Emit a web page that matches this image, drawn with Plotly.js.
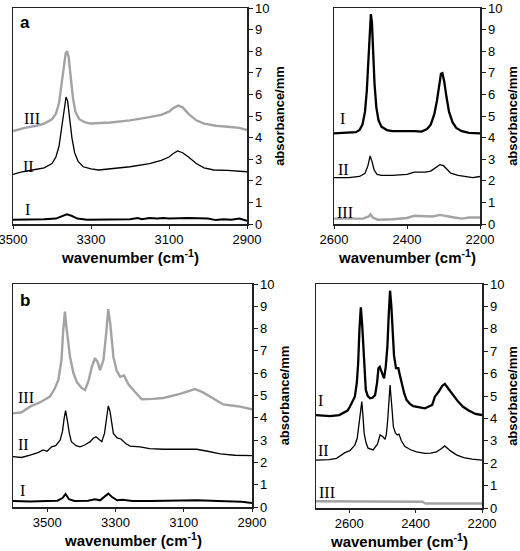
<!DOCTYPE html>
<html>
<head>
<meta charset="utf-8">
<script src="https://cdn.plot.ly/plotly-3.0.1.min.js"></script>
<style>html,body{margin:0;padding:0;background:#fff;}#chart{width:520px;height:551px;}</style>
</head>
<body>
<div id="chart"></div>
<script>
// ---------- Panel a, left (3500-2900 cm-1) ----------
const aL_I_x = [3500,3480,3450,3420,3390,3375,3362,3350,3335,3310,3250,3200,3180,3170,3150,3130,3115,3100,3050,3000,2980,2960,2940,2920,2900];
const aL_I_y = [0.2,0.2,0.22,0.22,0.25,0.35,0.45,0.38,0.25,0.2,0.2,0.22,0.28,0.22,0.28,0.25,0.28,0.25,0.28,0.25,0.18,0.22,0.2,0.25,0.15];
const aL_II_x = [3500,3480,3450,3420,3400,3390,3382,3375,3369,3364,3360,3355,3349,3342,3333,3320,3300,3280,3250,3200,3150,3120,3100,3090,3078,3065,3050,3030,3010,2985,2950,2920,2900];
const aL_II_y = [2.3,2.4,2.5,2.6,2.8,3.1,3.6,4.5,5.4,5.88,5.7,5.0,4.0,3.3,2.9,2.65,2.55,2.5,2.55,2.65,2.8,2.95,3.1,3.25,3.38,3.3,3.1,2.8,2.6,2.5,2.48,2.45,2.42];
const aL_III_x = [3500,3470,3440,3420,3400,3390,3382,3375,3370,3365,3361,3357,3352,3346,3340,3330,3315,3300,3250,3200,3150,3120,3100,3088,3076,3065,3050,3030,3010,2980,2950,2920,2900];
const aL_III_y = [4.3,4.45,4.55,4.65,4.85,5.1,5.6,6.5,7.3,7.9,8.0,7.7,6.8,5.8,5.2,4.85,4.7,4.65,4.7,4.8,4.95,5.05,5.2,5.38,5.48,5.4,5.1,4.8,4.65,4.55,4.5,4.45,4.35];

// ---------- Panel a, right (2600-2200 cm-1) ----------
const aR_I_x = [2600,2580,2560,2540,2530,2522,2515,2510,2506,2502,2499,2496,2493,2489,2484,2478,2470,2455,2440,2400,2380,2360,2345,2335,2325,2318,2312,2307,2303,2298,2292,2285,2275,2265,2250,2230,2200];
const aR_I_y = [4.2,4.22,4.22,4.25,4.35,4.6,5.2,6.2,7.5,9.0,9.72,9.3,8.0,6.5,5.4,4.8,4.5,4.35,4.3,4.32,4.3,4.28,4.4,4.6,5.1,5.7,6.5,6.95,6.98,6.6,5.9,5.2,4.7,4.45,4.3,4.22,4.2];
const aR_II_x = [2600,2560,2530,2515,2507,2501,2496,2490,2482,2470,2440,2400,2380,2350,2335,2320,2310,2300,2290,2280,2260,2240,2220,2200];
const aR_II_y = [2.15,2.15,2.2,2.35,2.7,3.15,2.9,2.5,2.3,2.25,2.25,2.3,2.4,2.4,2.45,2.65,2.75,2.7,2.5,2.35,2.25,2.2,2.15,2.2];
const aR_III_x = [2600,2560,2520,2505,2500,2494,2480,2440,2400,2380,2350,2330,2310,2290,2270,2250,2230,2200];
const aR_III_y = [0.25,0.25,0.25,0.35,0.45,0.3,0.2,0.22,0.28,0.38,0.35,0.35,0.42,0.35,0.3,0.25,0.3,0.3];

// ---------- Panel b, left (3600-2900 cm-1) ----------
const bL_I_x = [3600,3550,3500,3470,3455,3446,3436,3420,3380,3360,3345,3330,3321,3310,3295,3280,3250,3200,3150,3100,3060,3000,2960,2930,2900];
const bL_I_y = [0.27,0.25,0.27,0.28,0.4,0.58,0.35,0.27,0.28,0.35,0.3,0.5,0.6,0.45,0.3,0.32,0.27,0.27,0.28,0.27,0.3,0.27,0.25,0.24,0.18];
const bL_II_x = [3600,3575,3550,3525,3512,3500,3487,3475,3462,3455,3450,3446,3441,3435,3429,3415,3404,3390,3374,3365,3357,3348,3340,3332,3326,3321,3316,3311,3306,3295,3284,3270,3257,3228,3200,3160,3100,3062,3030,2993,2950,2900];
const bL_II_y = [2.26,2.22,2.33,2.45,2.56,2.5,2.7,2.75,3.0,3.4,4.0,4.32,3.9,3.3,2.93,2.75,2.7,2.78,2.93,3.08,3.15,3.05,2.93,3.3,4.1,4.53,4.3,3.7,3.3,3.1,3.05,2.85,2.73,2.7,2.62,2.59,2.57,2.59,2.5,2.38,2.32,2.3];
const bL_III_x = [3600,3575,3550,3520,3492,3478,3467,3458,3453,3448,3443,3438,3433,3423,3413,3400,3389,3378,3369,3360,3352,3345,3335,3327,3321,3315,3310,3306,3296,3286,3275,3262,3245,3223,3190,3160,3111,3085,3067,3045,3023,3000,2984,2960,2935,2900];
const bL_III_y = [4.2,4.25,4.5,4.7,4.95,5.3,5.7,6.6,7.9,8.76,8.0,7.2,6.74,6.0,5.6,5.35,5.25,5.7,6.3,6.67,6.5,6.14,6.6,7.8,8.87,8.2,7.3,6.74,6.1,5.84,5.9,5.5,5.2,4.83,4.85,4.89,5.07,5.2,5.29,5.15,4.95,4.75,4.6,4.55,4.5,4.38];

// ---------- Panel b, right (2700-2200 cm-1) ----------
const bR_I_x = [2700,2658,2630,2618,2605,2598,2590,2583,2577,2573,2569,2565,2561,2558,2554,2550,2544,2537,2530,2522,2516,2512,2508,2503,2495,2490,2485,2481,2477,2473,2469,2465,2459,2452,2447,2442,2434,2427,2417,2407,2390,2372,2357,2350,2342,2330,2320,2312,2300,2287,2272,2257,2240,2220,2200];
const bR_I_y = [4.15,4.1,4.15,4.23,4.35,4.52,4.75,4.97,5.6,6.46,8.0,8.96,8.2,7.2,6.0,5.27,5.0,4.9,4.92,5.04,5.6,6.24,6.3,6.1,5.79,6.3,7.2,8.6,9.7,9.0,7.5,6.8,6.24,6.24,5.9,5.57,5.1,4.82,4.65,4.55,4.5,4.45,4.55,4.6,4.97,5.2,5.45,5.54,5.3,5.04,4.75,4.52,4.35,4.2,4.15];
const bR_II_x = [2700,2660,2638,2625,2613,2598,2590,2583,2576,2570,2566,2562,2558,2555,2549,2543,2528,2515,2507,2500,2492,2488,2484,2480,2477,2472,2467,2461,2455,2450,2443,2432,2415,2397,2372,2355,2337,2325,2312,2295,2277,2255,2230,2200];
const bR_II_y = [2.14,2.16,2.22,2.35,2.47,2.56,2.7,2.81,3.1,3.93,4.5,4.75,4.0,3.33,2.9,2.67,2.59,2.85,3.26,3.2,3.07,3.3,3.93,4.9,5.49,4.6,3.63,3.35,3.26,3.3,3.0,2.74,2.6,2.51,2.44,2.45,2.51,2.62,2.77,2.55,2.37,2.25,2.18,2.14];
const bR_III_x = [2700,2600,2500,2400,2380,2370,2340,2300,2260,2230,2200];
const bR_III_y = [0.3,0.3,0.3,0.3,0.28,0.2,0.2,0.22,0.2,0.2,0.2];

// ---------- axis settings ----------
const xRanges = {aL:[3500,2900], aR:[2600,2200], bL:[3600,2900], bR:[2700,2200]};
const xTicks = {aL:[3500,3300,3100,2900], aR:[2600,2400,2200], bL:[3500,3300,3100,2900], bR:[2600,2400,2200]};
const yTicks = [0,1,2,3,4,5,6,7,8,9,10];
const xTitle = 'wavenumber (cm<sup>-1</sup>)';
const yTitle = 'absorbance/mm';
const seriesNames = ['I','II','III'];

const BLACK = '#000000', GRAY = '#a3a3a3';
function tr(x, y, xa, ya, color, w, name){
  return {x:x, y:y, xaxis:xa, yaxis:ya, type:'scatter', mode:'lines', name:name,
          line:{color:color, width:w}, hoverinfo:'skip', showlegend:false};
}
const data = [
  tr(aL_III_x,aL_III_y,'x','y',GRAY,2.4,'III'),
  tr(aL_II_x,aL_II_y,'x','y',BLACK,1.3,'II'),
  tr(aL_I_x,aL_I_y,'x','y',BLACK,2.0,'I'),
  tr(aR_III_x,aR_III_y,'x2','y2',GRAY,2.4,'III'),
  tr(aR_II_x,aR_II_y,'x2','y2',BLACK,1.3,'II'),
  tr(aR_I_x,aR_I_y,'x2','y2',BLACK,2.3,'I'),
  tr(bL_III_x,bL_III_y,'x3','y3',GRAY,2.4,'III'),
  tr(bL_II_x,bL_II_y,'x3','y3',BLACK,1.3,'II'),
  tr(bL_I_x,bL_I_y,'x3','y3',BLACK,2.0,'I'),
  tr(bR_III_x,bR_III_y,'x4','y4',GRAY,2.4,'III'),
  tr(bR_II_x,bR_II_y,'x4','y4',BLACK,1.3,'II'),
  tr(bR_I_x,bR_I_y,'x4','y4',BLACK,2.3,'I')
];

const SANS = 'Liberation Sans, Arial, sans-serif';
const SERIF = 'Liberation Serif, Times New Roman, serif';
function xax(range, ticks, domain, anchor){
  return {domain:domain, anchor:anchor, range:range, tickvals:ticks, ticktext:ticks.map(String),
    ticks:'outside', ticklen:3, tickwidth:1, tickcolor:'#222', showline:true, mirror:true,
    linecolor:'#222', linewidth:1.5, showgrid:false, zeroline:false, ticklabeloverflow:'allow',
    tickfont:{family:SANS, size:13, color:'#000'}};
}
function yax(domain, anchor){
  return {domain:domain, anchor:anchor, side:'right', range:[0,10], tickvals:yTicks,
    ticks:'outside', ticklen:4, tickwidth:1, tickcolor:'#222', showline:true, mirror:true,
    linecolor:'#222', linewidth:1.5, showgrid:false, zeroline:false, ticklabeloverflow:'allow',
    tickfont:{family:SANS, size:13, color:'#000'},
    title:{text:yTitle, font:{family:SANS, size:13, color:'#000', weight:'bold'}, standoff:6}};
}
const W=520, H=551;
const dx = (a,b)=>[a/W, b/W];
const dy = (top,bot)=>[1-bot/H, 1-top/H];

function lab(text, x, y, xr, yr){
  return {text:text, x:x, y:y, xref:xr, yref:yr, showarrow:false, xanchor:'center', yanchor:'middle',
          font:{family:SERIF, size:16, color:'#000'}};
}
function xTitleAnn(xr, yr){
  return {text:'<b>'+xTitle+'</b>', x:0.5, y:0, xref:xr+' domain', yref:yr+' domain', showarrow:false,
          xanchor:'center', yanchor:'top', yshift:-22, borderpad:0, font:{family:SANS, size:15, color:'#000'}};
}
const annotations = [
  lab(seriesNames[2], 3451, 4.9, 'x','y'), lab(seriesNames[1], 3460, 2.65, 'x','y'), lab(seriesNames[0], 3462, 0.68, 'x','y'),
  lab(seriesNames[0], 2578, 4.9, 'x2','y2'), lab(seriesNames[1], 2573, 2.5, 'x2','y2'), lab(seriesNames[2], 2570, 0.55, 'x2','y2'),
  lab(seriesNames[2], 3563, 4.9, 'x3','y3'), lab(seriesNames[1], 3568, 2.8, 'x3','y3'), lab(seriesNames[0], 3572, 0.76, 'x3','y3'),
  lab(seriesNames[0], 2686, 4.8, 'x4','y4'), lab(seriesNames[1], 2676, 2.55, 'x4','y4'), lab(seriesNames[2], 2668, 0.67, 'x4','y4'),
  xTitleAnn('x','y'), xTitleAnn('x2','y2'), xTitleAnn('x3','y3'), xTitleAnn('x4','y4'),
  {text:'<b>a</b>', x:0.05, y:0.935, xref:'x domain', yref:'y domain', showarrow:false, xanchor:'center', yanchor:'middle', font:{family:SANS, size:17, color:'#000'}},
  {text:'<b>b</b>', x:0.05, y:0.928, xref:'x3 domain', yref:'y3 domain', showarrow:false, xanchor:'center', yanchor:'middle', font:{family:SANS, size:17, color:'#000'}}
];

const layout = {
  width:W, height:H, margin:{l:0,r:0,t:0,b:0}, paper_bgcolor:'#fff', plot_bgcolor:'#fff',
  showlegend:false,
  xaxis: xax(xRanges.aL, xTicks.aL, dx(13,247), 'y'),
  yaxis: yax(dy(8,224), 'x'),
  xaxis2: xax(xRanges.aR, xTicks.aR, dx(334,480), 'y2'),
  yaxis2: yax(dy(8,224), 'x2'),
  xaxis3: xax(xRanges.bL, xTicks.bL, dx(13,252), 'y3'),
  yaxis3: yax(dy(284,507), 'x3'),
  xaxis4: xax(xRanges.bR, xTicks.bR, dx(316,482), 'y4'),
  yaxis4: yax(dy(284,508), 'x4'),
  annotations: annotations
};
Plotly.newPlot('chart', data, layout, {displayModeBar:false, staticPlot:true});
</script>
</body>
</html>
